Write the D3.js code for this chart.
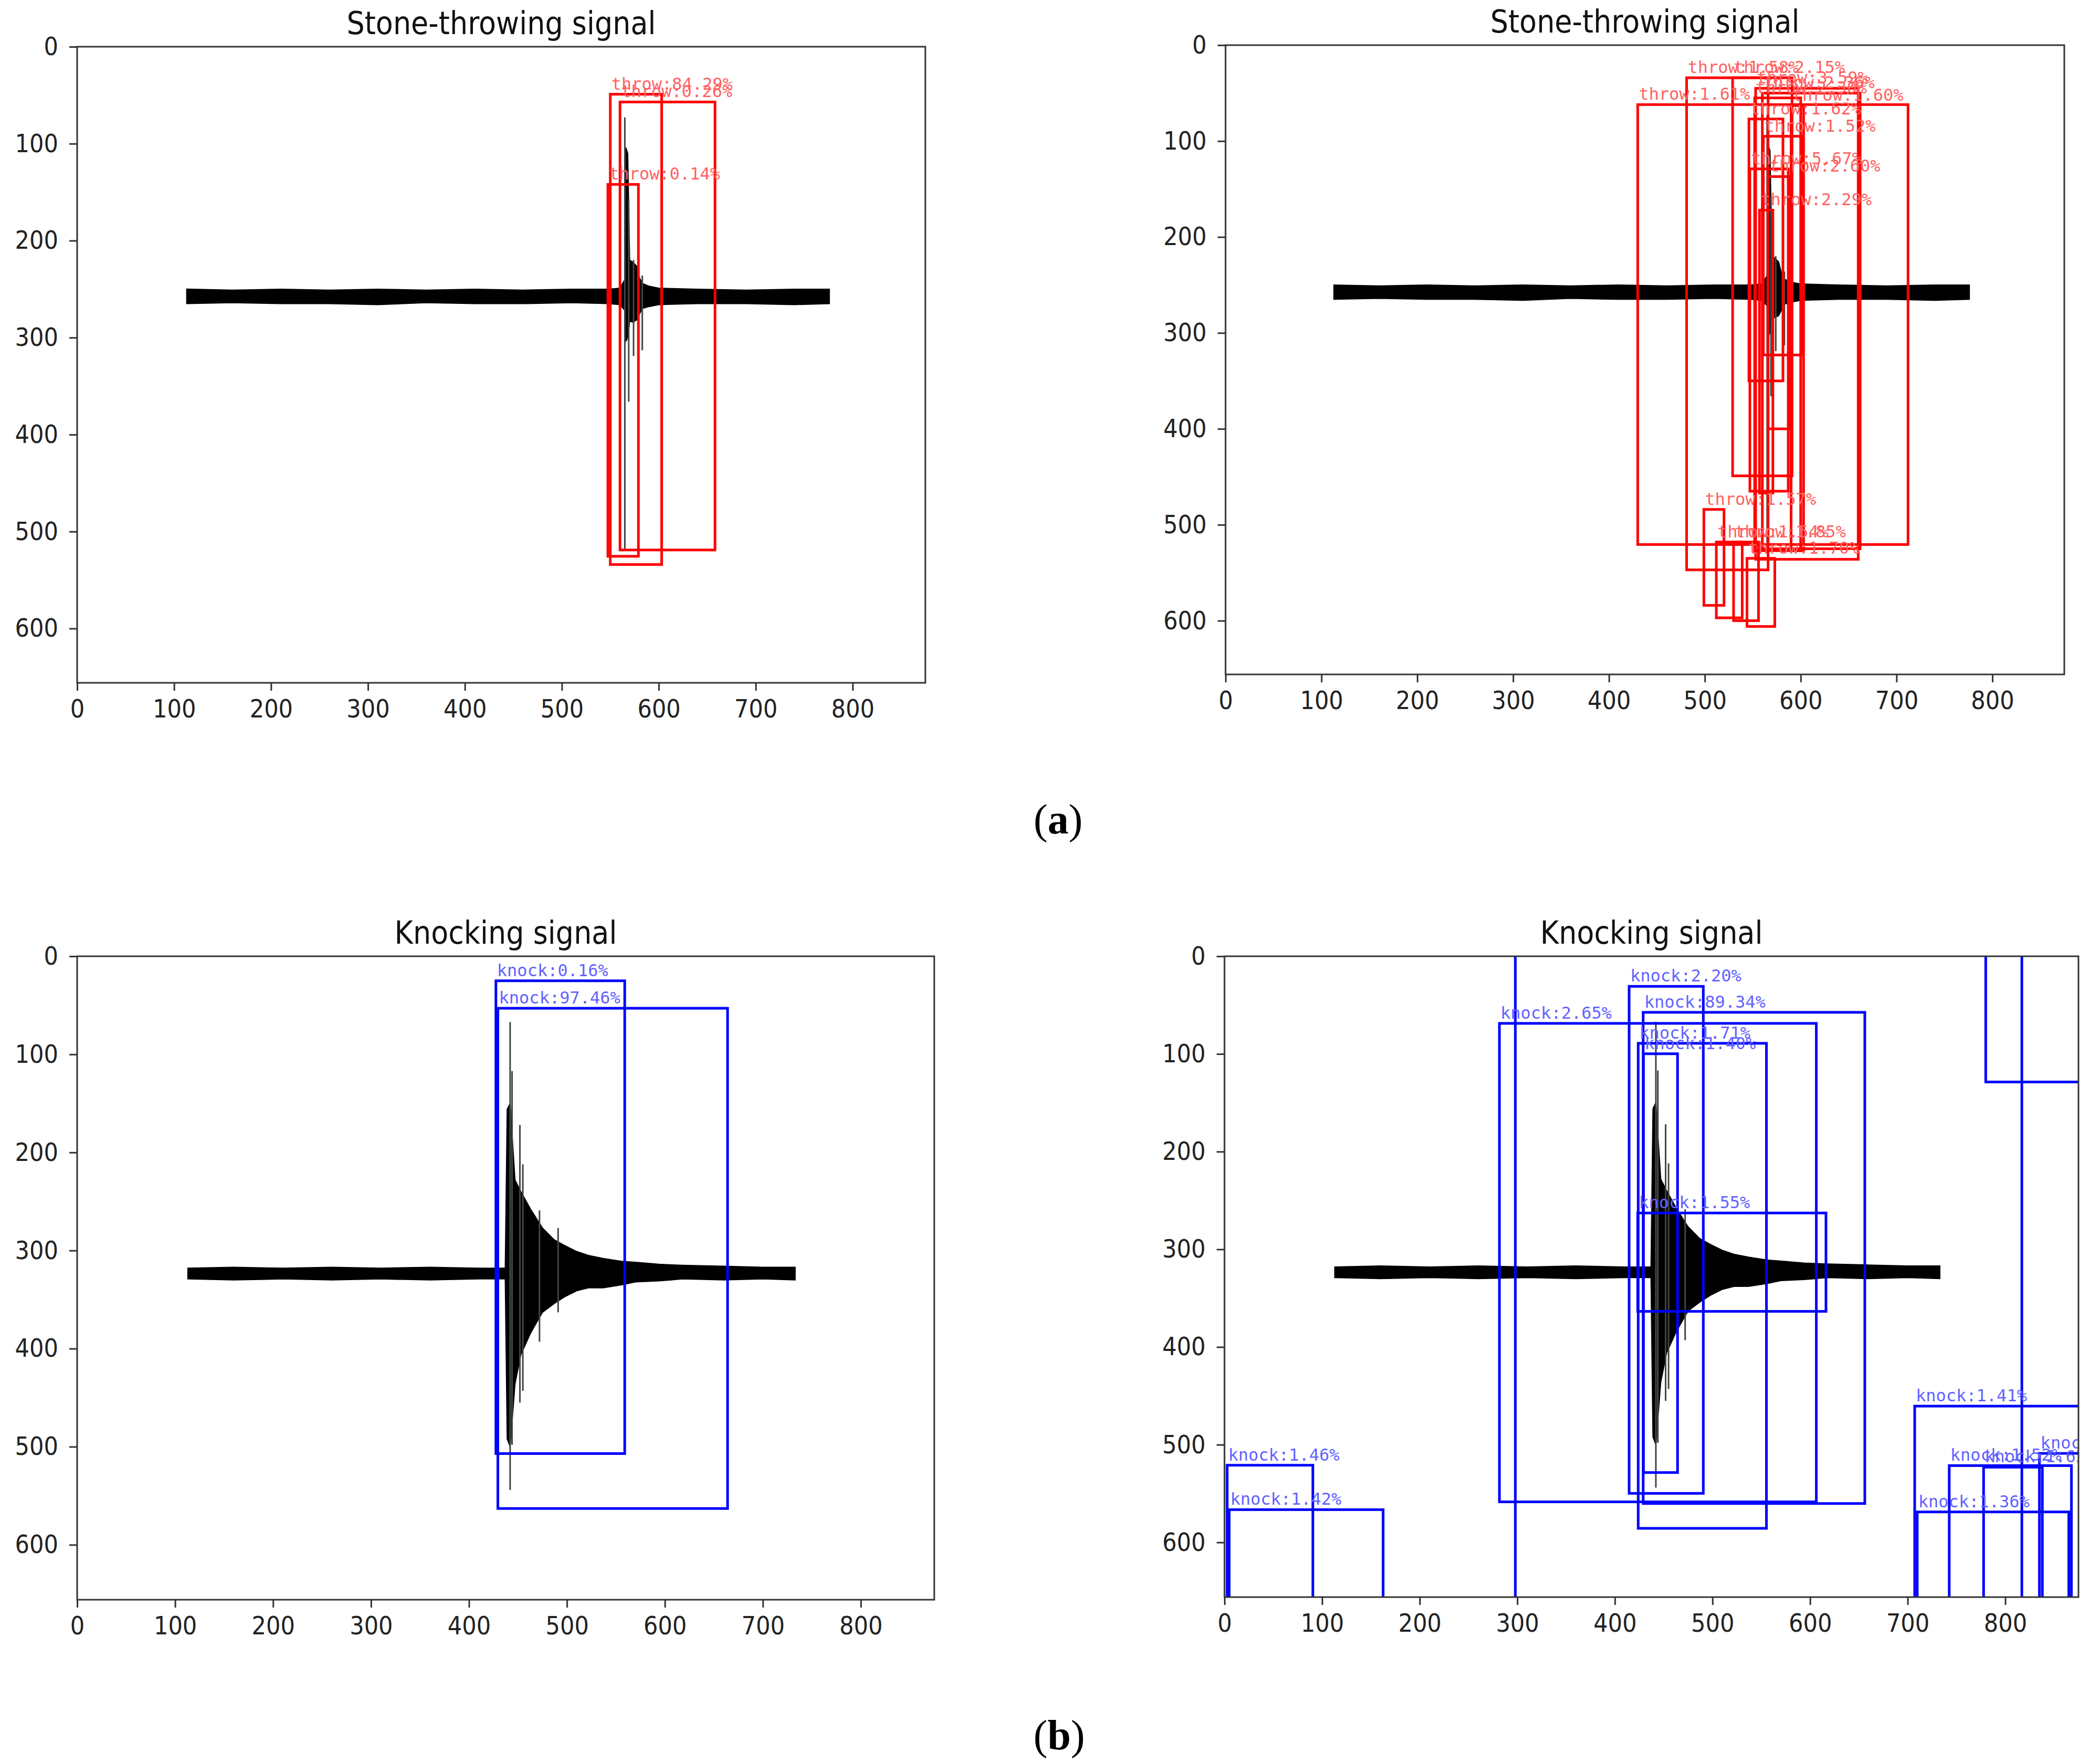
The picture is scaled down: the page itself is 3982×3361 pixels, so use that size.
<!DOCTYPE html>
<html>
<head>
<meta charset="utf-8">
<script src="https://cdn.jsdelivr.net/npm/d3@7"></script>
<style>
  body { margin: 0; background: #fff; }
</style>
</head>
<body>
<svg id="root"></svg>
<script>
// image size of the plotted detection frames (pixels of the source image)
const imageWidth = 875;
const imageHeight = 656;

const xTicks = [0, 100, 200, 300, 400, 500, 600, 700, 800];
const yTicks = [0, 100, 200, 300, 400, 500, 600];

const titles = ["Stone-throwing signal", "Stone-throwing signal", "Knocking signal", "Knocking signal"];

// stone-throwing waveform envelope
const stoneX      = [113, 160, 210, 260, 310, 360, 410, 460, 510, 548, 560, 565, 566, 568, 570, 573, 577, 580, 583, 590, 600, 640, 690, 740, 776];
const stoneTop    = [250, 251, 250, 251, 250, 251, 250, 251, 250, 250, 249, 240, 104, 110, 220, 222, 226, 238, 244, 247, 249, 250, 251, 250, 250];
const stoneBottom = [265, 264, 265, 265, 266, 264, 265, 265, 264, 265, 266, 272, 304, 300, 283, 284, 282, 276, 270, 268, 266, 265, 265, 266, 265];
const stoneSpikeX      = [565, 569, 574, 583];
const stoneSpikeTop    = [73, 157, 220, 236];
const stoneSpikeBottom = [519, 366, 319, 313];

// knocking waveform envelope
const knockX      = [113, 160, 210, 260, 310, 360, 410, 437, 439, 442, 447, 453, 463, 475, 487, 498, 510, 522, 537, 556, 570, 594, 618, 660, 700, 733];
const knockTop    = [318, 317, 318, 317, 318, 317, 318, 318, 156, 150, 228, 240, 258, 277, 289, 295, 301, 305, 308, 311, 312, 314, 315, 316, 317, 317];
const knockBottom = [329, 330, 329, 330, 329, 330, 329, 329, 492, 500, 436, 406, 384, 363, 354, 347, 341, 338, 338, 335, 332, 331, 329, 330, 329, 330];
const knockSpikeX      = [442, 444, 452, 455, 472, 491];
const knockSpikeTop    = [67, 117, 172, 212, 259, 277];
const knockSpikeBottom = [544, 498, 455, 443, 393, 363];

// detection boxes: [x0, y0, x1, y1, label]
const throwBoxesA = [
  [550, 49, 603, 534, "throw:84.29%"],
  [560, 57, 658, 519, "throw:0.26%"],
  [547.5, 142, 579, 525.5, "throw:0.14%"]
];
const throwBoxesB = [
  [430, 62, 712, 520.6, "throw:1.61%"],
  [481, 34, 566, 547, "throw:1.58%"],
  [529, 34, 591, 449, "throw:2.15%"],
  [553, 45, 660, 536, "throw:3.59%"],
  [560, 50, 662, 525, "throw:2.36%"],
  [552, 55, 600, 527, "throw:2.30%"],
  [590, 63, 603, 527, "throw:1.60%"],
  [546, 77, 581.5, 350, "throw:1.62%"],
  [561, 95, 601, 323, "throw:1.52%"],
  [547, 129, 587, 465, "throw:5.67%"],
  [566, 137, 588, 400, "throw:2.60%"],
  [557, 172, 571, 467, "throw:2.29%"],
  [499, 484, 520, 584, "throw:1.57%"],
  [512, 518, 539, 597, "throw:1.54%"],
  [530, 518, 556, 600, "throw:1.85%"],
  [544, 535, 573, 606, "throw:1.70%"]
];
const knockBoxesA = [
  [427.5, 25, 559, 507, "knock:0.16%"],
  [429.5, 53, 664, 563, "knock:97.46%"]
];
// the first two boxes run past the image top, so their labels are not in view
const knockBoxesB = [
  [298, -40, 817, 700, ""],
  [780, -40, 900, 128.7, ""],
  [414.6, 30.8, 490.6, 549.8, "knock:2.20%"],
  [429, 57.4, 656.1, 560.2, "knock:89.34%"],
  [281.7, 68.7, 606.4, 558.5, "knock:2.65%"],
  [423.9, 89.1, 555.3, 585.6, "knock:1.71%"],
  [429.3, 99.8, 464.2, 528.5, "knock:1.40%"],
  [423.4, 262.8, 616.3, 363.5, "knock:1.55%"],
  [2.7, 521, 90.5, 700, "knock:1.46%"],
  [4.8, 566.5, 162.5, 700, "knock:1.42%"],
  [707.2, 460.5, 900, 700, "knock:1.41%"],
  [709.8, 568.8, 865.1, 700, "knock:1.36%"],
  [742.6, 521.4, 867.8, 700, "knock:1.52%"],
  [777.8, 523, 838, 700, "knock:1.62%"],
  [835, 508.9, 900, 700, "knock:1.48%"]
];

// panel frames in page pixels
const frames = [
  { left: 147, top: 89, right: 1763, bottom: 1301 },
  { left: 2335, top: 86, right: 3933, bottom: 1285 },
  { left: 147, top: 1822, right: 1780, bottom: 3048 },
  { left: 2333, top: 1822, right: 3960, bottom: 3043 }
];

const svg = d3.select("#root").attr("width", 3982).attr("height", 3361);
svg.append("rect").attr("width", 3982).attr("height", 3361).attr("fill", "#fff");

const fontAxis = "'DejaVu Sans Condensed', 'DejaVu Sans', sans-serif";

function zipEnv(xs, tops, bottoms) {
  return xs.map((x, i) => ({ x: x, top: tops[i], bottom: bottoms[i] }));
}

function drawPanel(i, env, spikes, boxes, boxColor, labelColor) {
  const f = frames[i];
  const width = f.right - f.left, height = f.bottom - f.top;
  const g = svg.append("g").attr("transform", `translate(${f.left},${f.top})`);

  const x = d3.scaleLinear([0, imageWidth], [0, width]);
  const y = d3.scaleLinear([0, imageHeight], [0, height]);

  g.append("clipPath").attr("id", "clip" + i)
    .append("rect").attr("width", width).attr("height", height);

  const plot = g.append("g").attr("clip-path", `url(#clip${i})`);

  // waveform band
  const area = d3.area()
    .x(d => x(d.x))
    .y0(d => y(d.top))
    .y1(d => y(d.bottom));
  plot.append("path")
    .datum(env)
    .attr("fill", "#000")
    .attr("stroke", "#000")
    .attr("stroke-width", 2)
    .attr("d", area);

  plot.selectAll(".spike")
    .data(spikes)
    .join("line")
    .attr("class", "spike")
    .attr("x1", d => x(d.x)).attr("x2", d => x(d.x))
    .attr("y1", d => y(d.top)).attr("y2", d => y(d.bottom))
    .attr("stroke", "#444")
    .attr("stroke-width", 3);

  // detection boxes
  plot.selectAll(".box")
    .data(boxes)
    .join("rect")
    .attr("class", "box")
    .attr("x", d => x(d[0]))
    .attr("y", d => y(d[1]))
    .attr("width", d => x(d[2]) - x(d[0]))
    .attr("height", d => y(d[3]) - y(d[1]))
    .attr("fill", "none")
    .attr("stroke", boxColor)
    .attr("stroke-width", 5);

  plot.selectAll(".lbl")
    .data(boxes.filter(d => d[4]))
    .join("text")
    .attr("class", "lbl")
    .attr("x", d => x(d[0]) + 2)
    .attr("y", d => y(d[1]) - 9)
    .attr("font-family", "'DejaVu Sans Mono', monospace")
    .attr("font-size", 32)
    .attr("fill", labelColor)
    .text(d => d[4]);

  // axes
  const xAxis = g.append("g")
    .attr("transform", `translate(0,${height})`)
    .call(d3.axisBottom(x).tickValues(xTicks).tickSize(15).tickPadding(17));
  const yAxis = g.append("g")
    .call(d3.axisLeft(y).tickValues(yTicks).tickSize(15).tickPadding(21));
  [xAxis, yAxis].forEach(a => {
    a.select(".domain").remove();
    a.selectAll("line").attr("stroke", "#333").attr("stroke-width", 3);
    a.selectAll("text").attr("font-family", fontAxis).attr("font-size", 48).attr("fill", "#222");
  });

  // frame (four spines)
  g.append("rect")
    .attr("width", width).attr("height", height)
    .attr("fill", "none").attr("stroke", "#333").attr("stroke-width", 3);

  g.append("text")
    .attr("x", width / 2)
    .attr("y", -24)
    .attr("text-anchor", "middle")
    .attr("font-family", fontAxis)
    .attr("font-size", 60)
    .attr("fill", "#111")
    .text(titles[i]);
}

const stoneEnv = zipEnv(stoneX, stoneTop, stoneBottom);
const knockEnv = zipEnv(knockX, knockTop, knockBottom);
const stoneSpikes = zipEnv(stoneSpikeX, stoneSpikeTop, stoneSpikeBottom);
const knockSpikes = zipEnv(knockSpikeX, knockSpikeTop, knockSpikeBottom);

drawPanel(0, stoneEnv, stoneSpikes, throwBoxesA, "#ff0000", "#ff6262");
drawPanel(1, stoneEnv, stoneSpikes, throwBoxesB, "#ff0000", "#ff6262");
drawPanel(2, knockEnv, knockSpikes, knockBoxesA, "#0000ff", "#6262ff");
drawPanel(3, knockEnv, knockSpikes, knockBoxesB, "#0000ff", "#6262ff");

// sub-figure labels
function subLabel(letter, cx, baseline) {
  const t = svg.append("text")
    .attr("x", cx).attr("y", baseline)
    .attr("text-anchor", "middle")
    .attr("font-family", "'Liberation Serif', 'Times New Roman', serif")
    .attr("font-size", 80)
    .attr("fill", "#000");
  t.append("tspan").text("(");
  t.append("tspan").attr("font-weight", "bold").text(letter);
  t.append("tspan").text(")");
}
subLabel("a", 2016, 1588);
subLabel("b", 2018, 3333);
</script>
</body>
</html>
